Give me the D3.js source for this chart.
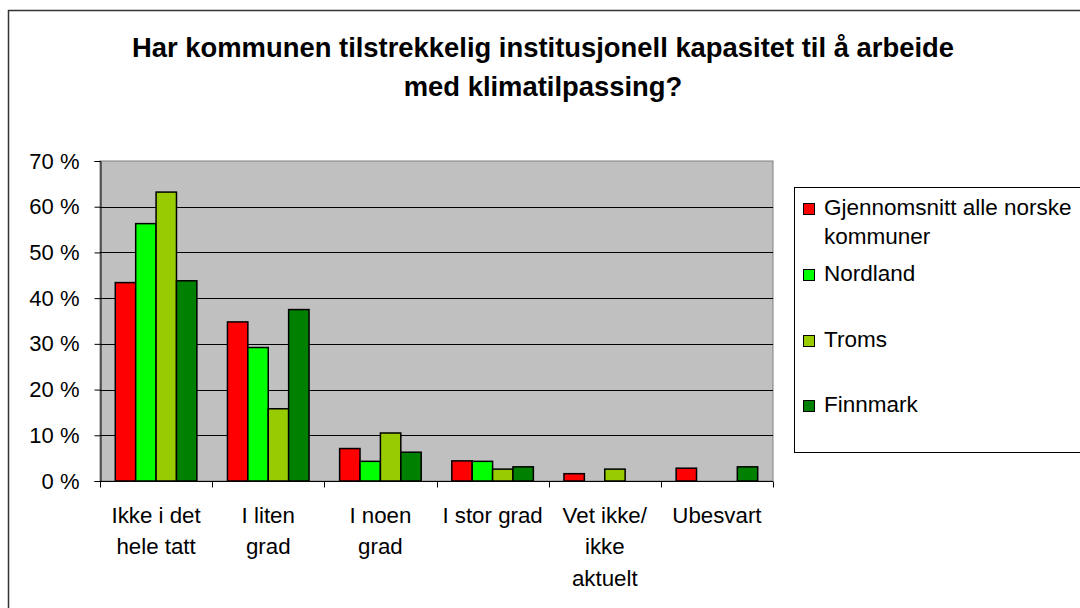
<!DOCTYPE html>
<html>
<head>
<meta charset="utf-8">
<script src="https://cdn.jsdelivr.net/npm/d3@7"></script>
<style>
  body { margin: 0; background: #fff; }
  svg { display: block; font-family: "Liberation Sans", Arial, sans-serif; }
</style>
</head>
<body>
<svg id="chart" width="1080" height="608"></svg>
<script>
// categories and series
const categories = [
  ["Ikke i det", "hele tatt"],
  ["I liten", "grad"],
  ["I noen", "grad"],
  ["I stor grad"],
  ["Vet ikke/", "ikke", "aktuelt"],
  ["Ubesvart"]
];
const seriesNames = ["Gjennomsnitt alle norske kommuner", "Nordland", "Troms", "Finnmark"];
const seriesColors = ["#ff0000", "#00ff00", "#99cc00", "#008000"];

const avgValues = [43.4, 34.8, 7.1, 4.4, 1.6, 2.8];
const nordlandValues = [56.3, 29.2, 4.3, 4.3, 0, 0];
const tromsValues = [63.2, 15.8, 10.5, 2.6, 2.6, 0];
const finnmarkValues = [43.8, 37.5, 6.3, 3.1, 0, 3.1];
const yTicks = [0, 10, 20, 30, 40, 50, 60, 70];

const allValues = [avgValues, nordlandValues, tromsValues, finnmarkValues];

const svg = d3.select("#chart");

// chart border (runs off the right and bottom edge like the original)
svg.append("rect")
  .attr("x", 8.5).attr("y", 10.5)
  .attr("width", 1200).attr("height", 700)
  .attr("fill", "#fff")
  .attr("stroke", "#333").attr("stroke-width", 1.5);

// title
const title = svg.append("text")
  .attr("text-anchor", "middle")
  .attr("font-size", 27.4).attr("font-weight", "bold")
  .attr("fill", "#000");
title.append("tspan").attr("x", 543).attr("y", 57)
  .text("Har kommunen tilstrekkelig institusjonell kapasitet til å arbeide");
title.append("tspan").attr("x", 543).attr("y", 96)
  .text("med klimatilpassing?");

// plot area
const plotL = 100, plotR = 773, plotT = 161, plotB = 481;

const x = d3.scaleBand()
  .domain(d3.range(categories.length))
  .range([plotL, plotR])
  .padding(0);

const xs = d3.scaleBand()
  .domain(d3.range(seriesNames.length))
  .range([0, x.bandwidth()])
  .paddingInner(0)
  .paddingOuter(0.75);

const y = d3.scaleLinear()
  .domain([0, 70])
  .range([plotB, plotT]);

svg.append("rect")
  .attr("x", plotL).attr("y", plotT)
  .attr("width", plotR - plotL).attr("height", plotB - plotT)
  .attr("fill", "#c0c0c0")
  .attr("stroke", "#808080").attr("stroke-width", 1);

// gridlines
svg.append("g")
  .selectAll("line")
  .data(yTicks.filter(d => d > 0 && d < 70))
  .join("line")
  .attr("x1", plotL).attr("x2", plotR)
  .attr("y1", d => Math.round(y(d)) + 0.5).attr("y2", d => Math.round(y(d)) + 0.5)
  .attr("stroke", "#000").attr("stroke-width", 1);

// bars
const groups = svg.append("g")
  .selectAll("g")
  .data(allValues)
  .join("g")
  .attr("fill", (d, i) => seriesColors[i]);

groups.each(function(vals, si) {
  d3.select(this).selectAll("rect")
    .data(vals.map((v, ci) => ({ v, ci })).filter(d => d.v > 0))
    .join("rect")
    .attr("x", d => x(d.ci) + xs(si))
    .attr("y", d => y(d.v))
    .attr("width", xs.bandwidth())
    .attr("height", d => plotB - y(d.v))
    .attr("stroke", "#000").attr("stroke-width", 1.5);
});

// y axis
const yAxis = svg.append("g")
  .attr("transform", `translate(${plotL + 0.5},0)`)
  .call(d3.axisLeft(y).tickValues(yTicks).tickSize(6).tickPadding(15)
    .tickFormat(d => d + " %"));
yAxis.select(".domain").attr("stroke", "#000");
yAxis.selectAll(".tick line").attr("stroke", "#000");
yAxis.selectAll("text")
  .attr("font-family", "Liberation Sans, Arial, sans-serif")
  .attr("font-size", 22).attr("fill", "#000");

// x axis
const xAxis = svg.append("g")
  .attr("transform", `translate(0,${plotB + 0.5})`);
xAxis.append("line")
  .attr("x1", plotL).attr("x2", plotR)
  .attr("stroke", "#000");
xAxis.selectAll(".tk")
  .data(d3.range(categories.length + 1))
  .join("line")
  .attr("class", "tk")
  .attr("x1", i => Math.round(plotL + i * x.step()) + 0.5)
  .attr("x2", i => Math.round(plotL + i * x.step()) + 0.5)
  .attr("y1", 0).attr("y2", 6)
  .attr("stroke", "#000");

xAxis.selectAll("text")
  .data(categories)
  .join("text")
  .attr("text-anchor", "middle")
  .attr("font-size", 22.3)
  .attr("fill", "#000")
  .each(function(lines, i) {
    const t = d3.select(this);
    lines.forEach((ln, k) => {
      t.append("tspan")
        .attr("x", x(i) + x.bandwidth() / 2)
        .attr("y", 41 + k * 31.5)
        .text(ln);
    });
  });

// legend
const legend = svg.append("g");
legend.append("rect")
  .attr("x", 794.5).attr("y", 187.5)
  .attr("width", 400).attr("height", 265)
  .attr("fill", "#fff").attr("stroke", "#000").attr("stroke-width", 1);

const legendRows = [
  { lines: ["Gjennomsnitt alle norske", "kommuner"], y: 215 },
  { lines: ["Nordland"], y: 281 },
  { lines: ["Troms"], y: 347 },
  { lines: ["Finnmark"], y: 412 }
];

legendRows.forEach((row, i) => {
  legend.append("rect")
    .attr("x", 803.5).attr("y", row.y - 11.5)
    .attr("width", 11).attr("height", 11)
    .attr("fill", seriesColors[i])
    .attr("stroke", "#000").attr("stroke-width", 1);
  const t = legend.append("text")
    .attr("font-size", 22.5).attr("fill", "#000");
  row.lines.forEach((ln, k) => {
    t.append("tspan").attr("x", 824).attr("y", row.y + k * 28.5).text(ln);
  });
});
</script>
</body>
</html>
